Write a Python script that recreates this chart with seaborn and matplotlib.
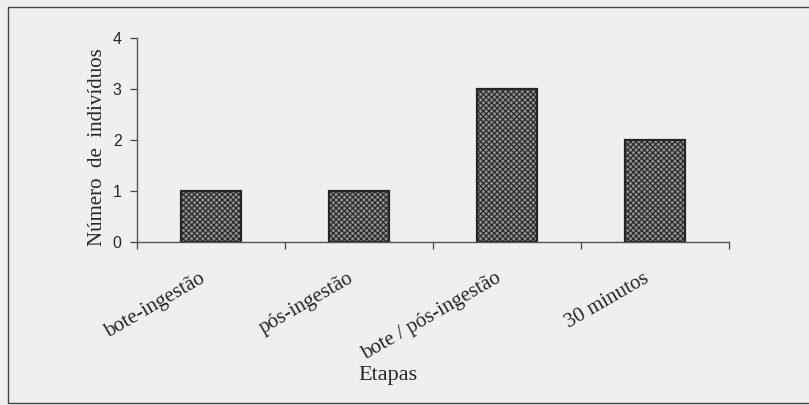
import matplotlib
matplotlib.use("Agg")
import matplotlib.pyplot as plt
import matplotlib.transforms as mtransforms
import seaborn as sns
import pandas as pd
from matplotlib.lines import Line2D

# data
etapas = ["bote-ingestão", "pós-ingestão", "bote / pós-ingestão", "30 minutos"]
n_individuos = [1, 1, 3, 2]

df = pd.DataFrame({"Etapas": etapas, "n": n_individuos})

sns.set_theme(style="white")
plt.rcParams["font.family"] = ["Liberation Serif", "DejaVu Serif"]
plt.rcParams["hatch.color"] = "#333333"
plt.rcParams["hatch.linewidth"] = 0.8

bg = "#efefed"
fig = plt.figure(figsize=(8.09, 4.05), dpi=100, facecolor=bg)
ax = fig.add_axes([137 / 809, 1 - 242 / 405, (729 - 137) / 809, (242 - 38) / 405])
ax.set_facecolor(bg)

sns.barplot(data=df, x="Etapas", y="n", ax=ax, width=0.4,
            color="#8f8f8f", edgecolor="#262626", linewidth=1.6, hatch="xxxxxx")

ax.set_xlim(-0.5, 3.5)
ax.set_ylim(0, 4)
ax.set_yticks([0, 1, 2, 3, 4])
ax.set_yticklabels(["0", "1", "2", "3", "4"], family="Liberation Sans", fontsize=11.5)

# category ticks sit between the bars
ax.set_xticks([0, 1, 2, 3])
ax.set_xticklabels(etapas, rotation=30, ha="right", rotation_mode="anchor", fontsize=15)
ax.tick_params(axis="x", which="major", bottom=True, length=0, pad=16)
ax.set_xticks([-0.5, 0.5, 1.5, 2.5, 3.5], minor=True)
ax.tick_params(axis="x", which="minor", bottom=True, length=5, width=0.9,
               color="#444444", direction="out")
ax.tick_params(axis="y", left=True, length=5, width=0.9, color="#444444",
               direction="out", pad=6)

# labels sit a little left of the bar centres in the original
shift = mtransforms.ScaledTranslation(-0.12, -0.05, fig.dpi_scale_trans)
for lab in ax.get_xticklabels():
    lab.set_transform(lab.get_transform() + shift)

for s in ["top", "right"]:
    ax.spines[s].set_visible(False)
for s in ["left", "bottom"]:
    ax.spines[s].set_color("#555555")
    ax.spines[s].set_linewidth(1.0)

ax.set_xlabel("Etapas", fontsize=16)
ax.set_ylabel("Número  de  indivíduos", fontsize=15)
ax.xaxis.set_label_coords((388 - 137) / 592, -(366 - 242) / 204)
ax.yaxis.set_label_coords((98 - 137) / 592, (242 - 147) / 204)
ax.yaxis.label.set_va("center")

# outer frame of the scanned figure
w, h = 809, 405
fig.add_artist(Line2D([8 / w, 8 / w], [1 - 7 / h, 1 - 403 / h], transform=fig.transFigure, color="#444444", lw=1))
fig.add_artist(Line2D([8 / w, 1], [1 - 7 / h, 1 - 7 / h], transform=fig.transFigure, color="#444444", lw=1))
fig.add_artist(Line2D([8 / w, 1], [1 - 403 / h, 1 - 403 / h], transform=fig.transFigure, color="#444444", lw=1))

fig.savefig("out.png", dpi=100, facecolor=bg)
